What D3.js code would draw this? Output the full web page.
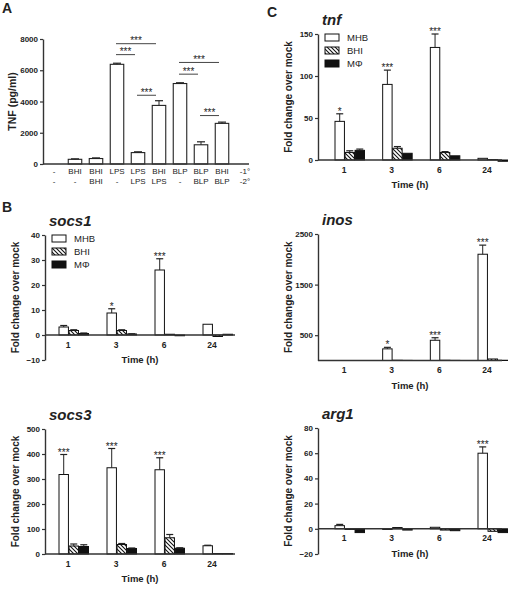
<!DOCTYPE html>
<html><head><meta charset="utf-8">
<script src="https://cdn.jsdelivr.net/npm/d3@7"></script>
<style>body{margin:0;background:#fff}svg{display:block;font-family:"Liberation Sans",Arial,sans-serif}</style>
</head><body><svg id="chart" width="512" height="589"></svg>
<script>
// ---------------- data ----------------
// Panel A
const stimPrimary   = ["-","BHI","BHI","LPS","LPS","BHI","BLP","BLP","BHI"];
const stimSecondary = ["-","-","BHI","-","LPS","LPS","-","BLP","BLP"];
const tnfProtein    = [0,300,350,6380,730,3750,5150,1230,2600];
const tnfProteinSem = [0,30,40,70,50,300,50,190,80];
const tnfProteinTicks = [0,2000,4000,6000,8000];
const sigPairs  = [[3,5],[3,4],[4,5],[6,8],[6,7],[7,8]];
const sigLevels = [7700,7000,4400,6500,5750,3100];

// Panels B/C
const timepoints = ["1","3","6","24"];
const groups = ["MHB","BHI","MΦ"];

const socs1MHB = [3.2,8.8,26,4.3],    socs1MHBSem = [0.6,1.7,4.5,0];
const socs1BHI = [1.8,1.8,0.3,-0.6],  socs1BHISem = [0.3,0.3,0,0];
const socs1MPhi = [0.6,0.4,-0.3,0.3], socs1MPhiSem = [0.2,0.1,0,0];
const socs1Stars = ["","*","***",""];
const socs1Ticks = [-10,0,10,20,30,40];

const socs3MHB = [318,345,337,33], socs3MHBSem = [80,77,48,2];
const socs3BHI = [32,38,65,2],     socs3BHISem = [8,4,13,0];
const socs3MPhi = [30,22,23,2],    socs3MPhiSem = [7,2,2,0];
const socs3Stars = ["***","***","***",""];
const socs3Ticks = [0,100,200,300,400,500];

const tnfMHB = [46,90,134,2],      tnfMHBSem = [9,17,16,0];
const tnfBHI = [9,14,9,0.5],       tnfBHISem = [2,2,1,0];
const tnfMPhi = [11.5,8,5,-1.5],   tnfMPhiSem = [1.5,0,0,0];
const tnfStars = ["*","***","***",""];
const tnfTicks = [0,50,100,150];

const inosMHB = [0,230,400,2100],  inosMHBSem = [0,30,50,180];
const inosBHI = [0,5,5,30],        inosBHISem = [0,0,0,0];
const inosMPhi = [0,2,2,5],        inosMPhiSem = [0,0,0,0];
const inosStars = ["","*","***","***"];
const inosTicks = [500,1500,2500];

const arg1MHB = [2.5,-0.5,1.2,60], arg1MHBSem = [1,0,0,5];
const arg1BHI = [-0.5,1,-1,-2],    arg1BHISem = [0,0,0,0];
const arg1MPhi = [-3,-1,-1.5,-3],  arg1MPhiSem = [0,0,0,0];
const arg1Stars = ["","","","***"];
const arg1Ticks = [-20,0,20,40,60,80];

// ---------------- drawing ----------------
const svg = d3.select("#chart");
const INK = "#222", AX = "#333";
const FONT = '"Liberation Sans",Arial,sans-serif';
const defs = svg.append("defs");
const pat = defs.append("pattern").attr("id","hatch").attr("patternUnits","userSpaceOnUse")
  .attr("width",4).attr("height",4);
pat.append("rect").attr("width",4).attr("height",4).attr("fill","#fff");
pat.append("path").attr("d","M0,0 L4,4 M-1,3 L1,5 M3,-1 L5,1").attr("stroke","#111").attr("stroke-width",1.1);
const fills = ["#fff","url(#hatch)","#111"];

function panelLetter(t, x, y){
  svg.append("text").attr("x",x).attr("y",y).attr("font-size",14).attr("font-weight","bold").attr("fill",INK).text(t);
}
function stars(g, t, x, y){
  g.append("text").attr("x",x).attr("y",y).attr("text-anchor","middle").attr("font-size",10).attr("fill",INK).text(t);
}
function styleYAxis(ya){
  ya.attr("font-family",FONT).attr("font-size",8);
  ya.select(".domain").attr("stroke",AX).attr("stroke-width",1.4);
  ya.selectAll(".tick line").attr("stroke",AX).attr("stroke-width",1.2);
  ya.selectAll("text").attr("font-weight","bold").attr("fill",INK);
}

// ---- Panel A ----
(function(){
  const g = svg.append("g");
  const left = 43, right = 249;
  const x = d3.scalePoint().domain(d3.range(stimPrimary.length)).range([54,222]);
  const y = d3.scaleLinear().domain([0,8000]).range([164,39]);
  const bw = 13.5;
  g.selectAll(".bar").data(tnfProtein).join("rect")
    .attr("x",(d,i)=>x(i)-bw/2).attr("width",bw)
    .attr("y",d=>y(d)).attr("height",d=>y(0)-y(d))
    .attr("fill","#fff").attr("stroke",INK).attr("stroke-width",1.1);
  tnfProtein.forEach((v,i)=>{
    const s = tnfProteinSem[i]; if(!s) return;
    const cx = x(i);
    g.append("line").attr("x1",cx).attr("x2",cx).attr("y1",y(v)).attr("y2",y(v+s)).attr("stroke",INK);
    g.append("line").attr("x1",cx-4).attr("x2",cx+4).attr("y1",y(v+s)).attr("y2",y(v+s)).attr("stroke",INK).attr("stroke-width",1.2);
  });
  sigPairs.forEach((p,k)=>{
    const yy = y(sigLevels[k]);
    const x1 = x(p[0])-1, x2 = x(p[1])-3;
    g.append("line").attr("x1",x1).attr("x2",x2).attr("y1",yy).attr("y2",yy).attr("stroke","#444").attr("stroke-width",1);
    stars(g,"***",(x1+x2)/2,yy+0.5);
  });
  const ya = g.append("g").attr("transform",`translate(${left},0)`)
    .call(d3.axisLeft(y).tickValues(tnfProteinTicks).tickFormat(d3.format("d")).tickSize(3).tickSizeOuter(0).tickPadding(2));
  styleYAxis(ya);
  g.append("line").attr("x1",left).attr("x2",right).attr("y1",y(0)).attr("y2",y(0)).attr("stroke",AX).attr("stroke-width",1.4);
  g.append("text").attr("transform",`translate(${left-27},${(39+164)/2}) rotate(-90)`)
    .attr("text-anchor","middle").attr("font-size",10.5).attr("font-weight","bold").attr("fill",INK).text("TNF (pg/ml)");
  g.selectAll(".l1").data(stimPrimary).join("text").attr("x",(d,i)=>x(i)).attr("y",174)
    .attr("text-anchor","middle").attr("font-size",8).attr("fill",INK).text(d=>d);
  g.selectAll(".l2").data(stimSecondary).join("text").attr("x",(d,i)=>x(i)).attr("y",184)
    .attr("text-anchor","middle").attr("font-size",8).attr("fill",INK).text(d=>d);
  g.append("text").attr("x",245).attr("y",174).attr("text-anchor","middle").attr("font-size",8).attr("fill",INK).text("-1°");
  g.append("text").attr("x",245).attr("y",184).attr("text-anchor","middle").attr("font-size",8).attr("fill",INK).text("-2°");
})();

// ---- gene panels ----
function genePanel(cfg){
  const g = svg.append("g");
  const x = d3.scalePoint().domain(timepoints).range(cfg.xr);
  const sub = d3.scaleBand().domain(groups).range([-9,20.5]).paddingInner(0.06);
  const y = d3.scaleLinear().domain(cfg.domain).range(cfg.yr);
  const bw = sub.bandwidth();
  groups.forEach((s,si)=>{
    const vals = cfg.values[si], sems = cfg.sems[si];
    g.selectAll(null).data(timepoints).join("rect")
      .attr("x",d=>x(d)+sub(s)).attr("width",bw)
      .attr("y",(d,i)=>y(Math.max(0,vals[i]))).attr("height",(d,i)=>Math.abs(y(vals[i])-y(0)))
      .attr("fill",fills[si]).attr("stroke","#111").attr("stroke-width",1);
    timepoints.forEach((t,i)=>{
      const sm = sems[i]; if(!sm || vals[i]<=0) return;
      const cx = x(t)+sub(s)+bw/2, top = y(vals[i]+sm);
      g.append("line").attr("x1",cx).attr("x2",cx).attr("y1",y(vals[i])).attr("y2",top).attr("stroke",INK);
      g.append("line").attr("x1",cx-3.5).attr("x2",cx+3.5).attr("y1",top).attr("y2",top).attr("stroke",INK).attr("stroke-width",1.2);
    });
  });
  timepoints.forEach((t,i)=>{
    const st = cfg.stars[i]; if(!st) return;
    const v = cfg.values[0][i] + cfg.sems[0][i];
    stars(g, st, x(t)+sub("MHB")+bw/2, y(v)+1);
  });
  const ya = g.append("g").attr("transform",`translate(${cfg.left},0)`)
    .call(d3.axisLeft(y).tickValues(cfg.ticks).tickFormat(d3.format("d")).tickSize(3).tickSizeOuter(0).tickPadding(2));
  styleYAxis(ya);
  const y0 = y(0);
  g.append("line").attr("x1",cfg.left).attr("x2",cfg.right).attr("y1",y0).attr("y2",y0).attr("stroke",AX).attr("stroke-width",1.4);
  g.selectAll(".xl").data(timepoints).join("text").attr("x",d=>x(d)).attr("y",y0+12.5)
    .attr("text-anchor","middle").attr("font-size",8.5).attr("font-weight","bold").attr("fill",INK).text(d=>d);
  g.append("text").attr("x",(cfg.left+cfg.right)/2).attr("y",y0+28).attr("text-anchor","middle")
    .attr("font-size",9.5).attr("font-weight","bold").attr("fill",INK).text("Time (h)");
  g.append("text").attr("transform",`translate(${cfg.left-26},${(cfg.yr[0]+cfg.yr[1])/2}) rotate(-90)`)
    .attr("text-anchor","middle").attr("font-size",10).attr("font-weight","bold").attr("fill",INK).text("Fold change over mock");
  g.append("text").attr("x",cfg.left+4).attr("y",cfg.yr[1]-9).attr("font-size",15).attr("font-weight","bold")
    .attr("font-style","italic").attr("fill",INK).text(cfg.title);
  if(cfg.legend){
    groups.forEach((s,si)=>{
      const ly = cfg.yr[1] + si*13;
      g.append("rect").attr("x",cfg.left+7).attr("y",ly).attr("width",14).attr("height",7)
        .attr("fill",fills[si]).attr("stroke","#111").attr("stroke-width",1);
      g.append("text").attr("x",cfg.left+29).attr("y",ly+7).attr("font-size",9.5).attr("fill",INK).text(s);
    });
  }
}

genePanel({title:"socs1", left:45, right:235, xr:[68,212], yr:[360,235], domain:[-10,40], ticks:socs1Ticks,
  values:[socs1MHB,socs1BHI,socs1MPhi], sems:[socs1MHBSem,socs1BHISem,socs1MPhiSem], stars:socs1Stars, legend:true});
genePanel({title:"socs3", left:45, right:235, xr:[68,212], yr:[554,429], domain:[0,500], ticks:socs3Ticks,
  values:[socs3MHB,socs3BHI,socs3MPhi], sems:[socs3MHBSem,socs3BHISem,socs3MPhiSem], stars:socs3Stars});
genePanel({title:"tnf", left:318, right:502, xr:[344,487], yr:[160,34], domain:[0,150], ticks:tnfTicks,
  values:[tnfMHB,tnfBHI,tnfMPhi], sems:[tnfMHBSem,tnfBHISem,tnfMPhiSem], stars:tnfStars, legend:true});
genePanel({title:"inos", left:318, right:502, xr:[344,487], yr:[360.5,234], domain:[0,2500], ticks:inosTicks,
  values:[inosMHB,inosBHI,inosMPhi], sems:[inosMHBSem,inosBHISem,inosMPhiSem], stars:inosStars});
genePanel({title:"arg1", left:318, right:502, xr:[344,487], yr:[554,428], domain:[-20,80], ticks:arg1Ticks,
  values:[arg1MHB,arg1BHI,arg1MPhi], sems:[arg1MHBSem,arg1BHISem,arg1MPhiSem], stars:arg1Stars});

panelLetter("A",2,13);
panelLetter("B",2,212);
panelLetter("C",267,17);
</script></body></html>
